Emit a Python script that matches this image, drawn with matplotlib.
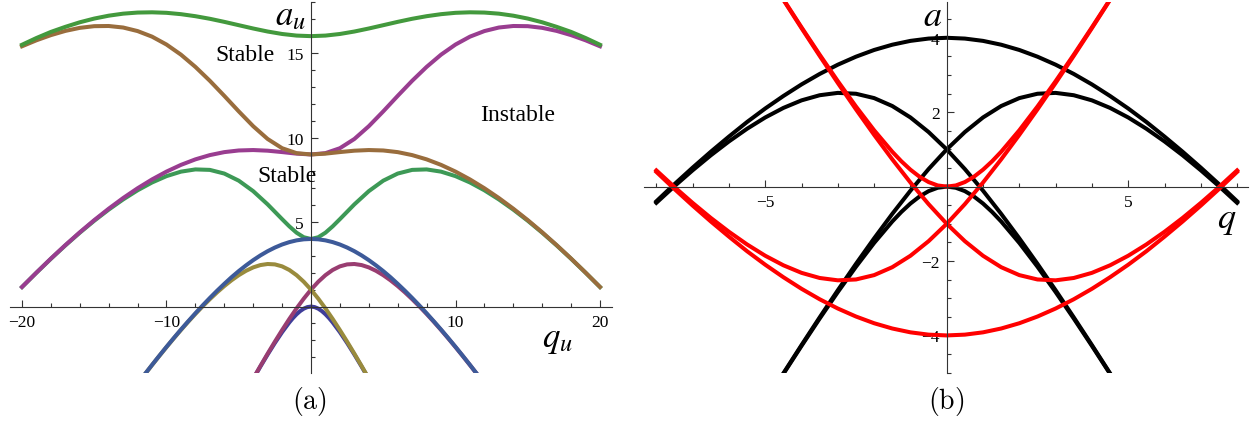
import numpy as np
import matplotlib
matplotlib.use("Agg")
import matplotlib.pyplot as plt
from matplotlib.ticker import MultipleLocator, FixedLocator

plt.rcParams['mathtext.fontset'] = 'stix'
plt.rcParams['font.family'] = ['Liberation Serif', 'DejaVu Serif']

# ---------------- data (Mathieu characteristic curves) ----------------
Q_A0 = [-5.0, -4.5, -4.0, -3.5, -3.0, -2.5, -2.0, -1.5, -1.25, -1.0, -0.75, -0.5, -0.25, 0.0,
        0.25, 0.5, 0.75, 1.0, 1.25, 1.5, 2.0, 2.5, 3.0, 3.5, 4.0, 4.5, 5.0]
A0 = [-5.800, -5.033, -4.281, -3.546, -2.834, -2.153, -1.514, -0.937, -0.681, -0.455, -0.266,
      -0.122, -0.031, 0.000,
      -0.031, -0.122, -0.266, -0.455, -0.681, -0.937, -1.514, -2.153, -2.834, -3.546, -4.281,
      -5.033, -5.800]

Q_A1 = np.arange(-5.0, 12.01, 0.5)
A1 = [-5.790, -5.018, -4.259, -3.514, -2.785, -2.076, -1.391, -0.733, -0.110, 0.471, 1.000,
      1.467, 1.859, 2.166, 2.379, 2.496, 2.519, 2.456, 2.318, 2.115, 1.858, 1.555, 1.214,
      0.841, 0.438, 0.012, -0.436, -0.903, -1.386, -1.886, -2.399, -2.925, -3.462, -4.010, -4.567]

Q_B1 = np.arange(-12.0, 5.01, 0.5)
B1 = [-4.567, -4.010, -3.462, -2.925, -2.399, -1.886, -1.386, -0.903, -0.436, 0.012, 0.438,
      0.841, 1.214, 1.555, 1.858, 2.115, 2.318, 2.456, 2.519, 2.496, 2.379, 2.166, 1.859,
      1.467, 1.000, 0.471, -0.110, -0.733, -1.391, -2.076, -2.785, -3.514, -4.259, -5.018, -5.790]

Q_B2 = np.arange(-12.0, 12.01, 0.5)
B2 = [-4.560, -4.000, -3.450, -2.911, -2.382, -1.866, -1.360, -0.872, -0.395, 0.066, 0.510,
      0.937, 1.345, 1.737, 2.0995, 2.4355, 2.747, 3.028, 3.277, 3.492, 3.6725, 3.814, 3.917,
      3.979, 4.000,
      3.979, 3.917, 3.814, 3.6725, 3.492, 3.277, 3.028, 2.747, 2.4355, 2.0995, 1.737, 1.345,
      0.937, 0.510, 0.066, -0.395, -0.872, -1.360, -1.866, -2.382, -2.911, -3.450, -4.000, -4.560]

Q_A2 = [-20, -19, -18, -17, -16, -15, -14, -13, -12, -11, -10, -9, -8, -7, -6, -5, -4, -3, -2,
        -1.5, -1, -0.5, 0, 0.5, 1, 1.5,
        2, 3, 4, 5, 6, 7, 8, 9, 10, 11, 12, 13, 14, 15, 16, 17, 18, 19, 20]
A2 = [1.154, 2.003, 2.827, 3.618, 4.370, 5.078, 5.736, 6.339, 6.879, 7.342, 7.717, 7.983, 8.115,
      8.087, 7.870, 7.449, 6.829, 6.046, 5.173,
      4.747, 4.371, 4.101, 4.000, 4.101, 4.371, 4.747,
      5.173, 6.046, 6.829, 7.449, 7.870, 8.087, 8.115, 7.983, 7.717, 7.342, 6.879, 6.339, 5.736,
      5.078, 4.370, 3.618, 2.827, 2.003, 1.154]

Q_W = np.arange(-20, 21, 1)
A3 = [1.159, 2.011, 2.839, 3.635, 4.395, 5.115, 5.791, 6.422, 7.000, 7.523, 7.986, 8.383, 8.710,
      8.962, 9.138, 9.236, 9.261, 9.223, 9.141, 9.048, 9.000,
      9.078, 9.370, 9.915, 10.671, 11.549, 12.466, 13.358, 14.180, 14.905, 15.503, 15.970,
      16.300, 16.510, 16.600, 16.590, 16.490, 16.310, 16.060, 15.755, 15.400]
B3 = [15.400, 15.755, 16.060, 16.310, 16.490, 16.590, 16.600, 16.510, 16.300, 15.970, 15.503,
      14.905, 14.180, 13.358, 12.466, 11.549, 10.671, 9.915, 9.370, 9.078, 9.000,
      9.048, 9.141, 9.223, 9.261, 9.236, 9.138, 8.962, 8.710, 8.383, 7.986, 7.523, 7.000,
      6.422, 5.791, 5.115, 4.395, 3.635, 2.839, 2.011, 1.159]
B4 = [15.49, 15.89, 16.25, 16.55, 16.82, 17.04, 17.21, 17.33, 17.395, 17.41, 17.38, 17.30, 17.18,
      17.027, 16.845, 16.648, 16.452, 16.273, 16.128, 16.033, 16.000,
      16.033, 16.128, 16.273, 16.452, 16.648, 16.845, 17.027, 17.18, 17.30, 17.38, 17.41,
      17.395, 17.33, 17.21, 17.04, 16.82, 16.55, 16.25, 15.89, 15.49]

LEFT_X_TICKS = [-20, -10, 10, 20]
LEFT_Y_TICKS = [5, 10, 15]
RIGHT_X_TICKS = [-5, 5]
RIGHT_Y_TICKS = [-4, -2, 2, 4]

# Mathematica default palette
C_A0, C_A1, C_B1, C_A2 = '#3f3d99', '#993d71', '#998b3d', '#3d9956'
C_B2, C_A3, C_B3, C_B4 = '#3d5a99', '#993d90', '#996d3d', '#43993d'

W, H = 1257, 427
fig = plt.figure(figsize=(W / 100, H / 100), dpi=100)
axL = fig.add_axes([10 / W, 1 - 374 / H, 602 / W, 371 / H])
axR = fig.add_axes([644 / W, 1 - 374 / H, 604 / W, 371.3 / H])


def lab(v):
    return ('\u2212%d' % abs(v)) if v < 0 else '%d' % v


def style(ax, xlim, ylim, xt, xminor, yt, yminor):
    ax.set_xlim(*xlim)
    ax.set_ylim(*ylim)
    ax.patch.set_alpha(0)
    for s in ['top', 'right']:
        ax.spines[s].set_visible(False)
    for s in ['left', 'bottom']:
        ax.spines[s].set_position(('data', 0))
        ax.spines[s].set_color('#333333')
        ax.spines[s].set_linewidth(0.8)
    ax.xaxis.set_major_locator(FixedLocator(xt))
    ax.xaxis.set_minor_locator(MultipleLocator(xminor))
    ax.yaxis.set_major_locator(FixedLocator(yt))
    ax.yaxis.set_minor_locator(MultipleLocator(yminor))
    ax.set_xticklabels([lab(v) for v in xt])
    ax.set_yticklabels([lab(v) for v in yt])
    ax.tick_params(which='both', direction='in', color='#333333', width=0.8)
    ax.tick_params(which='major', length=5, labelsize=12.5, pad=5)
    ax.tick_params(which='minor', length=3.2)


LW = 2.9
# ---------------- left panel ----------------
axL.plot(Q_A0, A0, color=C_A0, lw=LW)
axL.plot(Q_A1, A1, color=C_A1, lw=LW)
axL.plot(Q_B1, B1, color=C_B1, lw=LW)
axL.plot(Q_A2, A2, color=C_A2, lw=LW)
axL.plot(Q_B2, B2, color=C_B2, lw=LW)
axL.plot(Q_W, A3, color=C_A3, lw=LW)
axL.plot(Q_W, B3, color=C_B3, lw=LW)
axL.plot(Q_W, B4, color=C_B4, lw=LW)
style(axL, (-20.83, 20.83), (-3.93, 18.02), LEFT_X_TICKS, 2, LEFT_Y_TICKS, 1)
axL.text(-4.57, 14.94, 'Stable', fontsize=17, ha='center', va='center')
axL.text(-1.66, 7.78, 'Stable', fontsize=17, ha='center', va='center')
axL.text(14.3, 11.39, 'Instable', fontsize=17, ha='center', va='center')

# ---------------- right panel ----------------
def window(q, v, lim=8.0):
    q = np.asarray(q, float)
    v = np.asarray(v, float)
    m = np.abs(q) <= lim + 1e-9
    return q[m], v[m]

for q, v in [(Q_A0, A0), (Q_A1, A1), (Q_B1, B1), (Q_B2, B2)]:
    qq, vv = window(q, v)
    axR.plot(qq, vv, color='black', lw=LW)
for q, v in [(Q_A0, A0), (Q_A1, A1), (Q_B1, B1), (Q_B2, B2)]:
    qq, vv = window(q, v)
    axR.plot(qq, -vv, color='#ff0000', lw=LW)
style(axR, (-8.34, 8.30), (-5.01, 4.97), RIGHT_X_TICKS, 1, RIGHT_Y_TICKS, 0.5)

# ---------------- axis labels and panel captions ----------------
def ftext(x, y, s, **kw):
    fig.text(x / W, 1 - y / H, s, ha='center', va='center', **kw)

ftext(290, 17, r'$a_u$', fontsize=25)
ftext(557, 340, r'$q_u$', fontsize=25)
ftext(933, 17, r'$a$', fontsize=26)
ftext(1227, 221, r'$q$', fontsize=26)
ftext(309, 402, r'$\mathrm{(a)}$', fontsize=20, math_fontfamily='cm')
ftext(946, 402, r'$\mathrm{(b)}$', fontsize=20, math_fontfamily='cm')

fig.savefig('out.png', dpi=100)
